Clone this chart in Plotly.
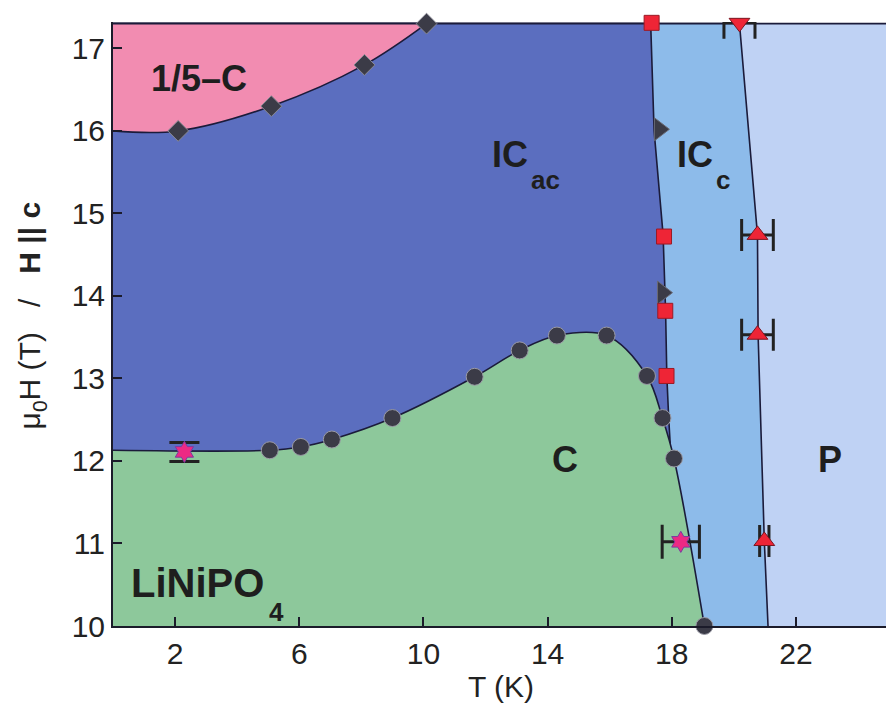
import plotly.graph_objects as go

# ---------------- data ----------------
# 1/5-C boundary (diamonds)
diam_T = [2.1, 5.1, 8.1, 10.1]
diam_H = [16.0, 16.3, 16.8, 17.3]
# C phase boundary (circles)
circ_T = [5.05, 6.05, 7.05, 9.0, 11.65, 13.1, 14.3, 15.9, 17.2, 17.7, 18.07, 19.05]
circ_H = [12.13, 12.17, 12.26, 12.52, 13.02, 13.34, 13.52, 13.52, 13.03, 12.52, 12.03, 10.0]
# IC_ac / IC_c transition (red squares, dark right triangles)
sq_T = [17.35, 17.75, 17.79, 17.83]
sq_H = [17.31, 14.72, 13.82, 13.03]
trir_T = [17.6, 17.7]
trir_H = [16.02, 14.04]
# IC_c / P transition (red triangles with error bars)
triu_T = [20.76, 20.76, 20.98]
triu_H = [14.74, 13.53, 11.03]
triu_err = [0.51, 0.51, 0.15]
trid_T = [20.18]
trid_H = [17.31]
trid_err = [0.5]
# stars
star1_T, star1_H, star1_errH = [2.3], [12.11], [0.115]
star2_T, star2_H, star2_errT = [18.29], [11.02], [0.6]

# phase-boundary lines
H_top = 17.3
pink_lo_T = [0.0] + diam_T
pink_lo_H = [16.0] + diam_H
green_T = [0.0] + circ_T
green_H = [12.13] + circ_H
icac_T = [0.0, 17.32, 17.43, 17.72, 17.8, 17.84, 17.9, 17.95]
icac_H = [17.3, 17.3, 16.0, 14.74, 13.82, 13.03, 12.52, 12.2]
icc_T = [0.0, 20.18, 20.76, 20.78, 20.98, 21.1]
icc_H = [17.3, 17.3, 14.74, 13.53, 11.03, 10.0]
x_max = 24.9

# ---------------- styles ----------------
C_P = "#bfd2f4"
C_ICC = "#8dbbea"
C_ICAC = "#5b6ebf"
C_PINK = "#f28cb1"
C_GREEN = "#8dc89b"
LINE = dict(color="#1b1b3a", width=1.6)
DARK = "#3b3b47"
RED = "#ee2536"
FONT = "Arial, Liberation Sans, Helvetica, sans-serif"

fig = go.Figure()

def fill(x, y, color, shape="linear", mode="tozeroy"):
    fig.add_trace(go.Scatter(x=x, y=y, mode="lines", fill=mode,
                             fillcolor=color, line=dict(LINE, shape=shape),
                             hoverinfo="skip", showlegend=False))

fill([0.0, x_max], [H_top, H_top], C_P)
fill(icc_T, icc_H, C_ICC)
fill(icac_T, icac_H, C_ICAC)
fill([0.0, diam_T[-1]], [H_top, H_top], "rgba(0,0,0,0)", mode="none")
fill(pink_lo_T, pink_lo_H, C_PINK, "spline", mode="tonexty")
fill(green_T, green_H, C_GREEN, "spline")

def markers(x, y, symbol, color, size, lcolor, lwidth=1, **kw):
    fig.add_trace(go.Scatter(x=x, y=y, mode="markers", cliponaxis=False,
                             marker=dict(symbol=symbol, color=color, size=size,
                                         line=dict(color=lcolor, width=lwidth)),
                             hoverinfo="skip", showlegend=False, **kw))

EB = dict(type="data", color="#222222", thickness=3)
markers(diam_T, diam_H, "diamond", DARK, 16, "#8a8a95")
markers(circ_T, circ_H, "circle", DARK, 17, "#9a9aa5")
markers(trir_T, trir_H, "triangle-right", DARK, 20, "#6a6a75")
markers(sq_T, sq_H, "square", RED, 15, "#9a1a25")
markers(triu_T, triu_H, "triangle-up", RED, 18, "#7a1520",
        error_x=dict(EB, array=triu_err, width=16))
markers(trid_T, trid_H, "triangle-down", RED, 18, "#7a1520",
        error_x=dict(EB, array=trid_err, width=16))
markers(star1_T, star1_H, "hexagram", "#ec2a84", 16, "#7b3aa0",
        error_y=dict(EB, array=star1_errH, width=15))
markers(star2_T, star2_H, "hexagram", "#ec2a84", 16, "#7b3aa0",
        error_x=dict(EB, array=star2_errT, width=17))

# ---------------- labels ----------------
def label(text, x, y, size, anchor="center"):
    fig.add_annotation(x=x, y=y, text=text, showarrow=False, xanchor=anchor,
                       yanchor="middle", font=dict(family=FONT, size=size, color="#1e1e1e"))

label("<b>1/5–C</b>", 2.77, 16.64, 36)
label("<b>IC</b>", 12.15, 15.72, 36, "left")
label("<b>ac</b>", 13.4, 15.41, 26, "left")
label("<b>IC</b>", 18.09, 15.72, 36, "left")
label("<b>c</b>", 19.35, 15.40, 26, "left")
label("<b>C</b>", 14.55, 12.02, 36)
label("<b>P</b>", 23.1, 12.02, 36)
label("<b>LiNiPO</b>", 0.53, 10.52, 40, "left")
label("<b>4</b>", 4.97, 10.17, 26, "left")

fig.add_annotation(xref="paper", yref="paper", x=0.502, y=-0.10, text="T (K)",
                   showarrow=False, xanchor="center", yanchor="middle",
                   font=dict(family=FONT, size=30, color="#222222"))
sp = "\u00a0"
fig.add_annotation(xref="paper", yref="paper", x=-0.105, y=0.514,
                   text="μ<sub>0</sub>H" + sp + "(T)" + sp * 3 + "/" + sp * 3 + "<b>H" + sp + "||" + sp + "c</b>",
                   textangle=-90, showarrow=False, xanchor="center", yanchor="middle",
                   font=dict(family=FONT, size=30, color="#222222"))

axis = dict(showline=True, linecolor="#1b1b2a", linewidth=2, ticks="inside",
            ticklen=9, tickwidth=2, tickcolor="#1b1b2a", showgrid=False,
            zeroline=False, tickfont=dict(family=FONT, size=30, color="#222222"))

fig.update_layout(
    width=886, height=706,
    margin=dict(l=113, r=0, t=22, b=80),
    paper_bgcolor="white", plot_bgcolor="white",
    xaxis=dict(axis, range=[0, x_max], tickvals=[2, 6, 10, 14, 18, 22]),
    yaxis=dict(axis, range=[10, 17.32], tickvals=list(range(10, 18))),
    showlegend=False,
)

fig.write_html("out.html")
